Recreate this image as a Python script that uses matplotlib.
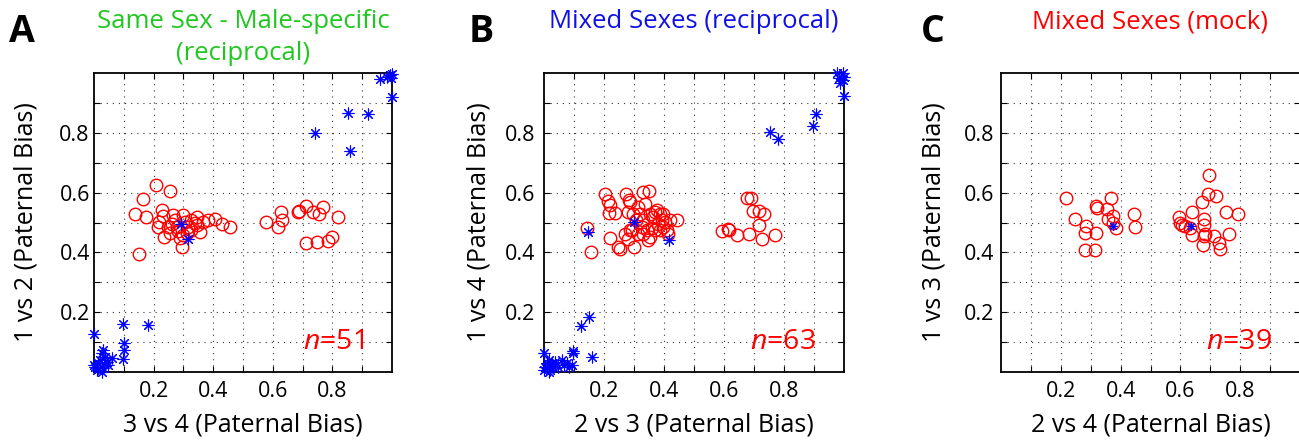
import matplotlib
matplotlib.use("Agg")
import matplotlib.pyplot as plt

plt.rcParams['font.family'] = ['Open Sans', 'DejaVu Sans']
plt.rcParams['mathtext.fontset'] = 'custom'
plt.rcParams['mathtext.it'] = 'Open Sans:italic'
plt.rcParams['mathtext.rm'] = 'Open Sans'

# ---------------- data ----------------
# Panel A: Same Sex - Male-specific (reciprocal)
a_circ_x = [0.208, 0.256, 0.166, 0.137, 0.173, 0.152, 0.229, 0.232, 0.219, 0.216,
            0.235, 0.255, 0.266, 0.272, 0.277, 0.297, 0.305, 0.297, 0.295, 0.288,
            0.316, 0.327, 0.345, 0.355, 0.344, 0.366, 0.384, 0.406, 0.431, 0.458,
            0.577, 0.616, 0.629, 0.632, 0.683, 0.688, 0.713, 0.736, 0.755, 0.770,
            0.819, 0.712, 0.749, 0.784, 0.799, 0.249, 0.311, 0.327, 0.262, 0.340,
            0.282]
a_circ_y = [0.626, 0.607, 0.578, 0.528, 0.517, 0.394, 0.542, 0.522, 0.503, 0.484,
            0.450, 0.464, 0.525, 0.508, 0.486, 0.525, 0.503, 0.458, 0.417, 0.447,
            0.486, 0.508, 0.520, 0.469, 0.492, 0.503, 0.508, 0.511, 0.495, 0.486,
            0.502, 0.486, 0.535, 0.508, 0.535, 0.539, 0.555, 0.534, 0.528, 0.553,
            0.520, 0.432, 0.436, 0.439, 0.450, 0.486, 0.464, 0.475, 0.495, 0.500,
            0.470]
a_star_x = [0.960, 0.984, 0.993, 1.000, 0.996, 1.000, 0.851, 0.921, 0.742, 0.859,
            0.293, 0.316,
            0.000, 0.096, 0.180, 0.101, 0.101, 0.096, 0.031, 0.026, 0.037, 0.059,
            0.020, 0.015, 0.003, 0.009, 0.031, 0.048, 0.000, 0.026, 0.043, 0.015]
a_star_y = [0.980, 0.988, 0.993, 0.996, 0.982, 0.921, 0.865, 0.862, 0.800, 0.739,
            0.495, 0.444,
            0.126, 0.159, 0.157, 0.098, 0.074, 0.042, 0.074, 0.062, 0.051, 0.046,
            0.040, 0.029, 0.018, 0.007, 0.012, 0.023, 0.023, 0.001, 0.035, 0.012]

# Panel B: Mixed Sexes (reciprocal)
b_circ_x = [0.202, 0.212, 0.219, 0.216, 0.238, 0.219, 0.247, 0.253, 0.144, 0.156,
            0.272, 0.283, 0.281, 0.286, 0.281, 0.300, 0.292, 0.314, 0.320, 0.329,
            0.350, 0.336, 0.308, 0.331, 0.342, 0.353, 0.347, 0.331, 0.364, 0.375,
            0.387, 0.392, 0.381, 0.398, 0.403, 0.409, 0.442, 0.370, 0.314, 0.420,
            0.592, 0.612, 0.618, 0.643, 0.684, 0.676, 0.689, 0.698, 0.718, 0.732,
            0.718, 0.728, 0.771, 0.297, 0.359, 0.387, 0.286, 0.353, 0.269, 0.398,
            0.414, 0.325, 0.370]
b_circ_y = [0.594, 0.571, 0.559, 0.532, 0.533, 0.447, 0.418, 0.412, 0.480, 0.401,
            0.596, 0.576, 0.534, 0.474, 0.446, 0.418, 0.474, 0.552, 0.530, 0.603,
            0.604, 0.563, 0.507, 0.507, 0.474, 0.451, 0.440, 0.463, 0.518, 0.541,
            0.530, 0.507, 0.496, 0.485, 0.502, 0.474, 0.509, 0.474, 0.463, 0.507,
            0.473, 0.477, 0.474, 0.459, 0.463, 0.583, 0.581, 0.538, 0.537, 0.530,
            0.491, 0.446, 0.459, 0.530, 0.480, 0.474, 0.570, 0.530, 0.463, 0.530,
            0.463, 0.485, 0.536]
b_star_x = [0.975, 0.998, 0.982, 0.998, 0.987, 1.000, 1.000, 0.905, 0.895, 0.752,
            0.780, 0.148, 0.300, 0.416,
            0.000, 0.096, 0.098, 0.123, 0.151, 0.160, 0.015, 0.037, 0.059, 0.076,
            0.093, 0.003, 0.020, 0.048, 0.082, 0.009, 0.031, 0.000, 0.065, 0.026,
            0.015]
b_star_y = [0.999, 1.000, 0.982, 0.977, 0.965, 0.988, 0.923, 0.862, 0.823, 0.804,
            0.778, 0.468, 0.501, 0.443,
            0.062, 0.071, 0.062, 0.154, 0.185, 0.049, 0.040, 0.035, 0.040, 0.029,
            0.023, 0.018, 0.007, 0.018, 0.018, 0.029, 0.018, 0.007, 0.023, 0.029,
            0.001]

# Panel C: Mixed Sexes (mock)
c_circ_x = [0.219, 0.247, 0.284, 0.280, 0.280, 0.313, 0.318, 0.318, 0.321, 0.353,
            0.357, 0.368, 0.373, 0.374, 0.384, 0.444, 0.449, 0.594, 0.600, 0.605,
            0.617, 0.638, 0.638, 0.672, 0.678, 0.680, 0.678, 0.675, 0.694, 0.692,
            0.720, 0.711, 0.728, 0.733, 0.752, 0.763, 0.791, 0.683, 0.633]
c_circ_y = [0.582, 0.511, 0.487, 0.464, 0.407, 0.407, 0.464, 0.554, 0.548, 0.545,
            0.513, 0.582, 0.521, 0.500, 0.483, 0.528, 0.485, 0.517, 0.500, 0.492,
            0.489, 0.534, 0.459, 0.567, 0.511, 0.492, 0.455, 0.424, 0.659, 0.595,
            0.590, 0.455, 0.431, 0.411, 0.534, 0.461, 0.530, 0.461, 0.482]
c_star_x = [0.375, 0.635]
c_star_y = [0.489, 0.487]

titles = [["Same Sex - Male-specific", "(reciprocal)"],
          ["Mixed Sexes (reciprocal)"],
          ["Mixed Sexes (mock)"]]
title_colors = ['#1ec81e', '#1010e6', '#ff0000']
letters = ['A', 'B', 'C']
xlabels = ['3 vs 4 (Paternal Bias)', '2 vs 3 (Paternal Bias)', '2 vs 4 (Paternal Bias)']
ylabels = ['1 vs 2 (Paternal Bias)', '1 vs 4 (Paternal Bias)', '1 vs 3 (Paternal Bias)']
n_labels = ['51', '63', '39']
tick_vals = [0.1, 0.2, 0.3, 0.4, 0.5, 0.6, 0.7, 0.8, 0.9]
tick_labels = ['', '0.2', '', '0.4', '', '0.6', '', '0.8', '']

panels = [
    (a_circ_x, a_circ_y, a_star_x, a_star_y),
    (b_circ_x, b_circ_y, b_star_x, b_star_y),
    (c_circ_x, c_circ_y, c_star_x, c_star_y),
]

# ---------------- layout ----------------
W, H = 1299, 442
fig = plt.figure(figsize=(W / 100, H / 100), dpi=100)

ax_px = [(94, 298), (544, 300), (1001, 299)]   # left, width in pixels
ax_top, ax_bot = 73, 372
letter_px = [22, 481, 933]
ylab_x = [26, 479, 934]
ytick_pad = [3, 6.5, 5]
star_sizes = [8.5, 8.5, 6.5]

for i, (cx, cy, sx, sy) in enumerate(panels):
    left, width = ax_px[i]
    ax = fig.add_axes([left / W, (H - ax_bot) / H, width / W, (ax_bot - ax_top) / H])
    ax.plot(cx, cy, 'o', mfc='none', mec='#ff0000', mew=1.0, ms=9, ls='none',
            clip_on=False, zorder=3)
    ax.plot(sx, sy, marker=(8, 2, 0), color='#0000ff', mew=0.8, ms=star_sizes[i],
            ls='none', clip_on=False, zorder=4)
    ax.set_xlim(0, 1)
    ax.set_ylim(0, 1)
    ax.set_xticks(tick_vals)
    ax.set_xticklabels(tick_labels)
    ax.set_yticks(tick_vals)
    ax.set_yticklabels(tick_labels)
    ax.tick_params(direction='in', length=4, width=0.8, labelsize=15.5,
                   top=True, right=True)
    ax.tick_params(axis='x', pad=6.5)
    ax.tick_params(axis='y', pad=ytick_pad[i])
    ax.grid(True, linestyle=(0, (1, 4.5)), color='#333333', linewidth=0.8)
    for sp in ax.spines.values():
        sp.set_linewidth(1.3)
        sp.set_color('black')
    ax.set_xlabel(xlabels[i], fontsize=18)
    ax.xaxis.set_label_coords(0.5, (ax_bot - 425) / (ax_bot - ax_top))
    ax.xaxis.label.set_va('center')
    ax.set_ylabel(ylabels[i], fontsize=18)
    ax.yaxis.set_label_coords((ylab_x[i] - left) / width, 0.5)
    ax.yaxis.label.set_va('center')
    ax.text(0.905, 0.10, r'$\mathit{n}$=' + n_labels[i], transform=ax.transAxes,
            ha='right', va='center', color='#ff0000', fontsize=20.5)
    # titles
    cxp = left + width / 2
    if len(titles[i]) == 2:
        fig.text(cxp / W, 1 - 22 / H, titles[i][0], ha='center', va='center',
                 color=title_colors[i], fontsize=18.5)
        fig.text(cxp / W, 1 - 54 / H, titles[i][1], ha='center', va='center',
                 color=title_colors[i], fontsize=18.5)
    else:
        fig.text(cxp / W, 1 - 22 / H, titles[i][0], ha='center', va='center',
                 color=title_colors[i], fontsize=18.5)
    fig.text(letter_px[i] / W, 1 - 32 / H, letters[i], ha='center', va='center',
             fontsize=27, fontweight='bold', color='black')

fig.savefig('out.png', dpi=100)
